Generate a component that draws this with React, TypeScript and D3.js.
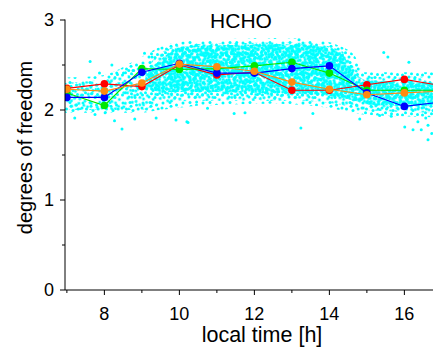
import React from "react";
import * as d3 from "d3";

// ---- data ----
const hours = [7, 8, 9, 10, 11, 12, 13, 14, 15, 16, 17];
const redSeries = [2.24, 2.29, 2.26, 2.50, 2.39, 2.42, 2.22, 2.22, 2.28, 2.34, 2.27];
const orangeSeries = [2.23, 2.21, 2.30, 2.51, 2.48, 2.43, 2.31, 2.23, 2.17, 2.19, 2.21];
const greenSeries = [2.19, 2.05, 2.46, 2.45, 2.46, 2.49, 2.53, 2.41, 2.22, 2.22, 2.22];
const blueSeries = [2.14, 2.14, 2.42, 2.52, 2.41, 2.41, 2.46, 2.49, 2.19, 2.04, 2.09];

// density envelopes of the scattered cloud: [time, lower, upper]
const cloudOuter: [number, number, number][] = [
  [6.95, 1.97, 2.36], [7.88, 1.97, 2.38], [8.95, 1.97, 2.58], [9.48, 2.0, 2.7],
  [10.28, 2.04, 2.77], [11.35, 2.06, 2.79], [12.41, 2.07, 2.8], [13.48, 2.05, 2.79],
  [14.28, 2.0, 2.71], [14.68, 1.97, 2.6], [14.9, 1.95, 2.42], [15.88, 1.93, 2.42],
  [16.79, 1.92, 2.42],
];
const cloudMid: [number, number, number][] = [
  [6.95, 2.0, 2.3], [8.95, 2.0, 2.42], [9.48, 2.06, 2.63], [10.28, 2.1, 2.73],
  [13.21, 2.1, 2.75], [14.28, 2.06, 2.67], [14.7, 2.02, 2.46], [14.9, 2.0, 2.37],
  [16.79, 1.97, 2.37],
];
const cloudCore: [number, number, number][] = [
  [9.1, 2.24, 2.38], [9.61, 2.2, 2.6], [10.28, 2.2, 2.71], [13.21, 2.18, 2.73],
  [14.28, 2.14, 2.64], [14.7, 2.1, 2.4], [15.0, 2.06, 2.33], [16.79, 2.04, 2.3],
];
// isolated scatter points outside the dense cloud: [time, value]
const cloudPoints: [number, number][] = [
  [7.62, 2.54], [8.2, 2.5], [7.87, 2.41], [8.33, 2.41], [8.51, 2.41], [8.65, 2.44], [8.78, 2.44],
  [7.21, 1.91], [8.47, 1.79], [8.27, 1.88], [8.81, 1.9], [9.38, 1.91], [9.91, 1.89], [10.2, 1.87],
  [7.75, 1.95], [8.02, 1.97], [9.07, 2.63], [9.27, 2.59], [10.75, 2.02], [11.46, 1.96],
  [11.75, 1.97], [13.24, 1.8], [10.46, 2.09], [11.53, 2.75], [13.19, 2.78], [15.45, 2.64],
  [15.56, 2.59], [16.12, 2.53], [13.56, 1.96], [14.81, 1.9], [16.01, 1.81], [16.23, 1.78],
  [16.45, 1.78], [16.63, 1.67], [16.73, 1.74], [15.34, 1.94], [15.65, 1.93], [16.36, 1.87],
  [16.57, 1.91], [16.63, 1.83], [10.23, 1.86],
];
const yMajor = [0, 1, 2, 3];
const yMinor = [0.5, 1.5, 2.5];
const xMajor = [8, 10, 12, 14, 16];
const xMinor = [7, 9, 11, 13, 15];

const series = [
  { name: "red", values: redSeries, color: "#ff0000" },
  { name: "green", values: greenSeries, color: "#00e800" },
  { name: "blue", values: blueSeries, color: "#0000ff" },
  { name: "orange", values: orangeSeries, color: "#ff8a10" },
];

// texture tile for the dense cloud (style only)
const TILE = [
  [3, 3], [10, 2.5], [16.5, 5], [6.5, 9], [13, 10.5], [18.2, 9], [17.5, 14.5],
  [2.5, 15], [9, 17], [15, 17.5], [5.5, 12.8], [11, 6.2], [11.5, 13.8], [2, 8],
];
const LAYERS = [
  { id: "l0", t: "translate(0,0)" },
  { id: "l1", t: "translate(7,11) rotate(37)" },
  { id: "l2", t: "translate(13,4) rotate(71)" },
  { id: "l3", t: "translate(4,15) rotate(-23)" },
  { id: "l4", t: "translate(16,13) rotate(54)" },
  { id: "l5", t: "translate(9,6) rotate(-61)" },
];

const W = 433, H = 348;
const left = 65, right = 434, top = 20, bottom = 290;
const FONT = "'Liberation Sans', Arial, sans-serif";
const CYAN = "#00ffff";

export default function App() {
  const x = d3.scaleLinear().domain([6.95, 16.79]).range([left, right]);
  const y = d3.scaleLinear().domain([0, 3]).range([bottom, top]);
  const area = d3
    .area<[number, number, number]>()
    .x((d) => x(d[0]))
    .y0((d) => y(d[1]))
    .y1((d) => y(d[2]))
    .curve(d3.curveMonotoneX);
  const line = d3
    .line<number>()
    .x((_, i) => x(hours[i]))
    .y((d) => y(d));

  const outerD = area(cloudOuter) || "";
  const midD = area(cloudMid) || "";
  const coreD = area(cloudCore) || "";

  return (
    <svg width={W} height={H} style={{ position: "absolute", left: 0, top: 0, background: "#fff" }}>
      <defs>
        <clipPath id="plot">
          <rect x={left} y={0} width={right - left} height={bottom} />
        </clipPath>
        {LAYERS.map((l) => (
          <pattern key={l.id} id={l.id} width={20} height={20} patternUnits="userSpaceOnUse" patternTransform={l.t}>
            {TILE.map((p, i) => (
              <circle key={i} cx={p[0]} cy={p[1]} r={1.5} fill={CYAN} />
            ))}
          </pattern>
        ))}
      </defs>
      <g clipPath="url(#plot)">
        <path d={outerD} fill="url(#l0)" />
        <path d={midD} fill="url(#l1)" />
        <path d={coreD} fill="url(#l2)" />
        <path d={coreD} fill="url(#l3)" />
        <path d={coreD} fill="url(#l4)" />
        <path d={coreD} fill="url(#l5)" />
        {cloudPoints.map((p, i) => (
          <circle key={i} cx={x(p[0])} cy={y(p[1])} r={1.5} fill={CYAN} />
        ))}
        {series.map((s) => (
          <g key={s.name}>
            <path d={line(s.values) || ""} fill="none" stroke={s.color} strokeWidth={1.1} />
            {s.values.map((v, i) => (
              <circle key={i} cx={x(hours[i])} cy={y(v)} r={3.8} fill={s.color} />
            ))}
          </g>
        ))}
      </g>
      {/* axes */}
      <line x1={left} x2={left} y1={top - 0.5} y2={bottom} stroke="#000" strokeWidth={1} />
      <line x1={left} x2={W} y1={bottom} y2={bottom} stroke="#000" strokeWidth={1} />
      {yMajor.map((v) => (
        <g key={"ym" + v}>
          <line x1={left - 5} x2={left} y1={y(v)} y2={y(v)} stroke="#000" />
          <text x={54} y={y(v)} dy="0.36em" textAnchor="end" fontSize={18} fontFamily={FONT}>
            {v}
          </text>
        </g>
      ))}
      {yMinor.map((v) => (
        <line key={"yn" + v} x1={left - 3} x2={left} y1={y(v)} y2={y(v)} stroke="#000" />
      ))}
      {xMajor.map((t) => (
        <g key={"xm" + t}>
          <line x1={x(t)} x2={x(t)} y1={bottom} y2={bottom + 5} stroke="#000" />
          <text x={x(t)} y={320} textAnchor="middle" fontSize={18} fontFamily={FONT}>
            {t}
          </text>
        </g>
      ))}
      {xMinor.map((t) => (
        <line key={"xn" + t} x1={x(t)} x2={x(t)} y1={bottom} y2={bottom + 3} stroke="#000" />
      ))}
      <text x={262} y={341.5} textAnchor="middle" fontSize={21.5} fontFamily={FONT}>
        local time [h]
      </text>
      <text
        transform={`translate(31.5,147.5) rotate(-90)`}
        textAnchor="middle"
        fontSize={20}
        fontFamily={FONT}
      >
        degrees of freedom
      </text>
      <text x={241} y={27.5} textAnchor="middle" fontSize={21} fontFamily={FONT}>
        HCHO
      </text>
    </svg>
  );
}
